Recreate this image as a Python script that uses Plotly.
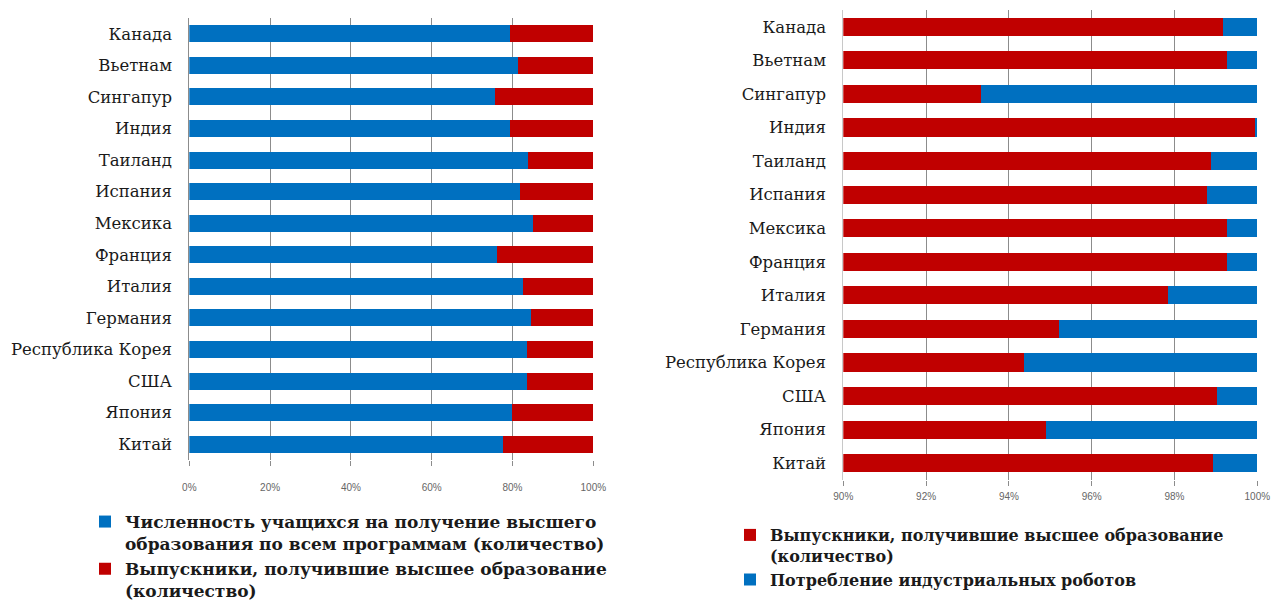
import plotly.graph_objects as go

# Categories, top to bottom as shown
countries = ["Канада", "Вьетнам", "Сингапур", "Индия", "Таиланд", "Испания", "Мексика",
             "Франция", "Италия", "Германия", "Республика Корея", "США", "Япония", "Китай"]

# Left chart: shares (%) of a 100% stacked bar
students_pct = [79.4, 81.4, 75.7, 79.4, 83.9, 81.9, 85.0, 76.1, 82.7, 84.5, 83.5, 83.7, 79.8, 77.7]
graduates_pct_left = [20.6, 18.6, 24.3, 20.6, 16.1, 18.1, 15.0, 23.9, 17.3, 15.5, 16.5, 16.3, 20.2, 22.3]

# Right chart: shares (%) of a 100% stacked bar, axis shown from 90% to 100%
graduates_pct_right = [99.18, 99.28, 93.33, 99.94, 98.88, 98.78, 99.28, 99.28, 97.84, 95.22, 94.37, 99.03, 94.89, 98.94]
robots_pct = [0.82, 0.72, 6.67, 0.06, 1.12, 1.22, 0.72, 0.72, 2.16, 4.78, 5.63, 0.97, 5.11, 1.06]

left_ticks = [0, 20, 40, 60, 80, 100]
right_ticks = [90, 92, 94, 96, 98, 100]

name_students = "Численность учащихся на получение высшего<br>образования по всем программам (количество)"
name_grad = "Выпускники, получившие высшее образование<br>(количество)"
name_robots = "Потребление индустриальных роботов"

BLUE = "#0070C0"
RED = "#C00000"
GRID = "#8C8C8C"

W, H = 1276, 604

fig = go.Figure()
fig.add_trace(go.Bar(y=countries, x=students_pct, orientation="h", name=name_students,
                     marker=dict(color=BLUE, line=dict(width=0)), xaxis="x", yaxis="y",
                     legend="legend"))
fig.add_trace(go.Bar(y=countries, x=graduates_pct_left, orientation="h", name=name_grad,
                     marker=dict(color=RED, line=dict(width=0)), xaxis="x", yaxis="y",
                     legend="legend"))
fig.add_trace(go.Bar(y=countries, x=graduates_pct_right, orientation="h", name=name_grad,
                     marker=dict(color=RED, line=dict(width=0)), xaxis="x2", yaxis="y2",
                     legend="legend2"))
fig.add_trace(go.Bar(y=countries, x=robots_pct, orientation="h", name=name_robots,
                     marker=dict(color=BLUE, line=dict(width=0)), xaxis="x2", yaxis="y2",
                     legend="legend2"))

cat_font = dict(family="DejaVu Serif", size=16.5, color="#1a1a1a")
tick_font = dict(family="Liberation Sans", size=10, color="#666666")
leg_font_l = dict(family="DejaVu Serif", size=17, color="#1a1a1a", weight="bold")
leg_font_r = dict(family="DejaVu Serif", size=16, color="#1a1a1a", weight="bold")

fig.update_layout(
    width=W, height=H,
    margin=dict(l=0, r=0, t=0, b=0, autoexpand=False),
    paper_bgcolor="white", plot_bgcolor="white",
    barmode="stack", bargap=0.46,
    xaxis=dict(domain=[189.3 / W, 593.3 / W], range=[0, 100], tickvals=left_ticks,
               ticktext=[f"{v}%" for v in left_ticks], showgrid=True, gridcolor=GRID,
               gridwidth=1, zeroline=False, ticks="outside", ticklen=5, tickcolor=GRID,
               tickfont=tick_font, ticklabelstandoff=13, anchor="y", showline=False,
               automargin=False),
    yaxis=dict(domain=[(H - 460) / H, (H - 18) / H], autorange="reversed",
               categoryorder="array", categoryarray=countries, tickfont=cat_font,
               showline=True, linecolor=GRID, linewidth=1, ticks="", ticklabelstandoff=13,
               anchor="x", showgrid=False, automargin=False),
    xaxis2=dict(domain=[843.3 / W, 1257.3 / W], range=[90, 100], tickvals=right_ticks,
                ticktext=[f"{v}%" for v in right_ticks], showgrid=True, gridcolor=GRID,
                gridwidth=1, zeroline=False, ticks="outside", ticklen=5, tickcolor=GRID,
                tickfont=tick_font, ticklabelstandoff=2, anchor="y2", showline=False,
                automargin=False),
    yaxis2=dict(domain=[(H - 480) / H, (H - 10) / H], autorange="reversed",
                categoryorder="array", categoryarray=countries, tickfont=cat_font,
                showline=True, linecolor="#c8c8c8", linewidth=1, ticks="",
                ticklabelstandoff=13, anchor="x2", showgrid=False, automargin=False),
    legend=dict(x=85 / W, y=(H - 504) / H, xanchor="left", yanchor="top",
                orientation="v", valign="top", font=leg_font_l, bgcolor="rgba(0,0,0,0)",
                itemwidth=30, tracegroupgap=0, traceorder="normal"),
    legend2=dict(x=730 / W, y=(H - 518) / H, xanchor="left", yanchor="top",
                 orientation="v", valign="top", font=leg_font_r, bgcolor="rgba(0,0,0,0)",
                 itemwidth=30, tracegroupgap=0, traceorder="normal"),
    showlegend=True,
)

fig.write_html("out.html")
